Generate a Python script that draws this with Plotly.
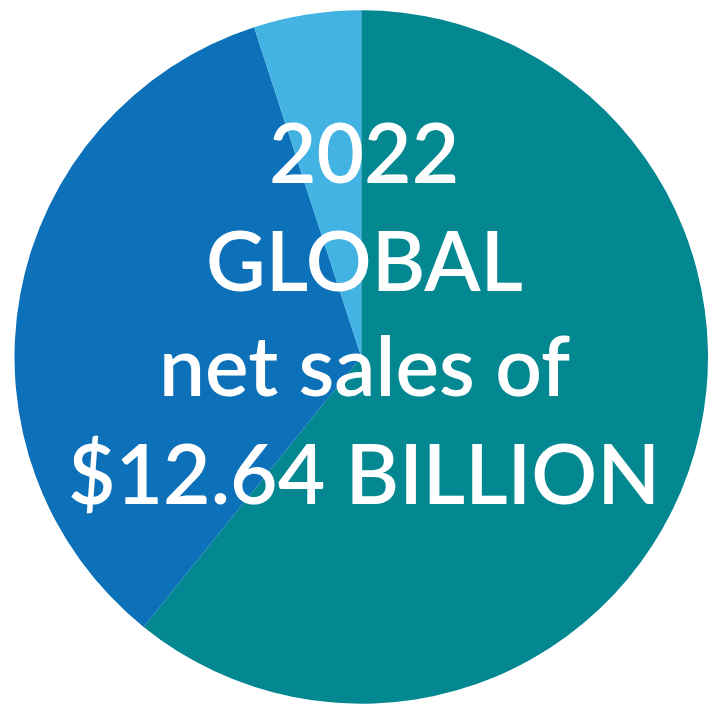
import plotly.graph_objects as go

# Share of 2022 global net sales by segment
segments = ["Segment A", "Segment B", "Segment C"]
shares = [60.8, 34.2, 5.0]
colors = ["#038891", "#0C71B9", "#43B3E3"]

headline = ["2022", "GLOBAL", "net sales of", "$12.64 BILLION"]

W, H = 708, 709

fig = go.Figure(
    go.Pie(
        labels=segments,
        values=shares,
        sort=False,
        direction="clockwise",
        rotation=0,
        marker=dict(colors=colors, line=dict(width=0)),
        textinfo="none",
        hoverinfo="label+percent",
        showlegend=False,
        domain=dict(x=[14.5 / W, 1.0], y=[5.25 / H, 698.75 / H]),
    )
)

# headline lines, one annotation each (y positions in px from top)
line_y = [151, 259, 364, 472]
for txt, y in zip(headline, line_y):
    fig.add_annotation(
        text=txt,
        x=364 / W,
        y=1 - y / H,
        xref="paper",
        yref="paper",
        xanchor="center",
        yanchor="middle",
        showarrow=False,
        font=dict(family="Lato", size=82, color="white", weight=600),
    )

fig.update_layout(
    width=W,
    height=H,
    margin=dict(l=0, r=0, t=0, b=0),
    paper_bgcolor="white",
    plot_bgcolor="white",
)

fig.write_html("out.html")
